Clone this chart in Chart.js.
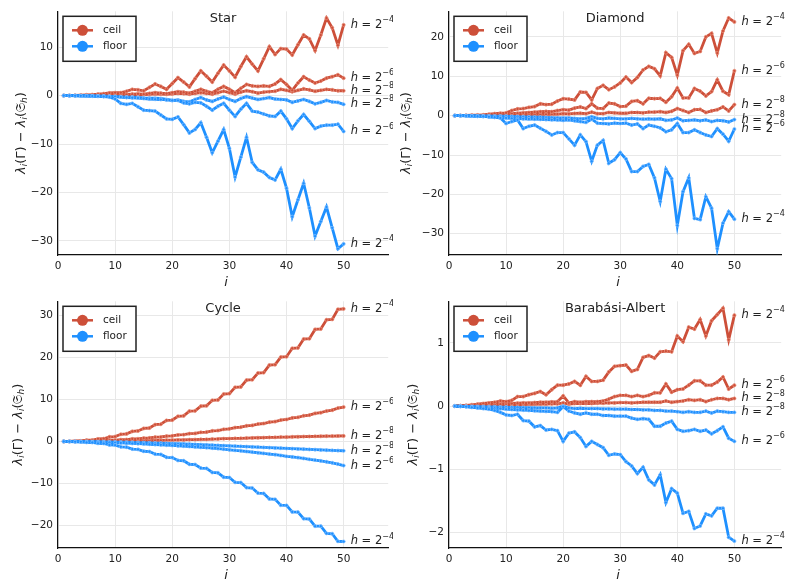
<!DOCTYPE html>
<html>
<head>
<meta charset="utf-8">
<script src="https://cdn.jsdelivr.net/npm/chart.js@4.4.0/dist/chart.umd.min.js"></script>
<style>
  html, body { margin: 0; padding: 0; background: #fff; }
  #figure { position: relative; width: 786px; height: 586px; overflow: hidden; }
  #figure canvas { position: absolute; }
</style>
</head>
<body>
<div id="figure">
  <canvas id="star" width="393" height="290" style="left:0;top:0"></canvas>
  <canvas id="diamond" width="393" height="290" style="left:393px;top:0"></canvas>
  <canvas id="cycle" width="393" height="296" style="left:0;top:290px"></canvas>
  <canvas id="ba" width="393" height="296" style="left:393px;top:290px"></canvas>
</div>
<script>
// eigenvalue index i
const eigIndex = [1, 2, 3, 4, 5, 6, 7, 8, 9, 10, 11, 12, 13, 14, 15, 16, 17, 18, 19, 20,
    21, 22, 23, 24, 25, 26, 27, 28, 29, 30, 31, 32, 33, 34, 35, 36, 37, 38, 39, 40,
    41, 42, 43, 44, 45, 46, 47, 48, 49, 50];

// Star
const starCeil4 = [0, 0.02, 0.05, 0.1, 0.15, 0.2, 0.3, 0.4, 0.55, 0.6, 0.6, 0.9, 1.3, 1.2, 1.0, 1.7, 2.4, 1.9, 1.3, 2.5,
    3.7, 2.8, 1.8, 3.5, 5.1, 4.0, 2.8, 4.6, 6.3, 5.1, 3.8, 6.0, 8.0, 6.5, 5.1, 7.6, 10.1, 8.5, 9.7, 9.6,
    8.4, 10.5, 12.5, 11.7, 9.3, 12.5, 16.0, 14.0, 10.4, 14.6];
const starCeil6 = [0, 0.01, 0.02, 0.04, 0.06, 0.08, 0.1, 0.12, 0.15, 0.18, 0.2, 0.25, 0.3, 0.35, 0.3, 0.45, 0.6, 0.5, 0.4, 0.6,
    0.8, 0.7, 0.5, 0.9, 1.3, 0.9, 0.6, 1.3, 1.9, 1.3, 0.6, 1.5, 2.3, 2.0, 1.9, 2.0, 1.9, 2.4, 3.3, 2.3,
    1.1, 2.6, 3.9, 3.2, 2.6, 3.0, 3.6, 3.9, 4.3, 3.6];
const starCeil8 = [0, 0.01, 0.02, 0.03, 0.04, 0.05, 0.06, 0.08, 0.1, 0.12, 0.14, 0.16, 0.2, 0.22, 0.2, 0.25, 0.35, 0.3, 0.25, 0.35,
    0.45, 0.4, 0.3, 0.45, 0.6, 0.45, 0.3, 0.6, 0.9, 0.6, 0.3, 0.7, 1.0, 0.8, 0.5, 0.7, 0.8, 0.9, 1.3, 1.1,
    0.8, 1.1, 1.4, 1.2, 0.9, 1.1, 1.3, 1.2, 1.0, 1.0];
const starFloor8 = [0, -0.01, -0.02, -0.04, -0.06, -0.08, -0.1, -0.12, -0.15, -0.2, -0.25, -0.3, -0.3, -0.35, -0.45, -0.5, -0.55, -0.6, -0.8, -1.0,
    -0.9, -1.2, -1.3, -0.8, -0.4, -0.9, -1.2, -0.7, -0.3, -0.8, -1.2, -0.6, -0.2, -0.5, -0.8, -0.6, -0.4, -0.7, -0.8, -0.9,
    -1.4, -1.1, -0.8, -1.2, -1.7, -1.4, -1.0, -1.3, -1.4, -1.8];
const starFloor6 = [0, -0.01, -0.02, -0.03, -0.05, -0.07, -0.09, -0.12, -0.15, -0.2, -0.3, -0.4, -0.45, -0.5, -0.6, -0.7, -0.75, -0.8, -0.9, -1.0,
    -1.0, -1.5, -1.7, -1.4, -1.5, -2.2, -3.0, -2.2, -1.6, -3.0, -4.3, -2.8, -1.6, -3.2, -3.4, -3.8, -4.2, -4.3, -3.2, -4.8,
    -6.8, -5.2, -3.9, -5.3, -6.8, -6.3, -6.1, -6.1, -5.9, -7.4];
const starFloor4 = [0, -0.01, -0.03, -0.05, -0.08, -0.1, -0.15, -0.2, -0.3, -0.7, -1.6, -1.8, -1.6, -2.3, -3.0, -3.1, -3.2, -4.0, -4.8, -4.9,
    -4.4, -6.0, -7.7, -7.0, -5.6, -8.6, -11.8, -9.4, -7.0, -10.9, -16.8, -12.7, -8.6, -13.8, -15.3, -15.8, -16.9, -17.4, -15.2, -19.1,
    -25.0, -21.5, -18.1, -23.2, -29.0, -26.0, -23.0, -27.3, -31.6, -30.6];

// Diamond
const diamondCeil4 = [0, 0.02, 0.05, 0.1, 0.15, 0.2, 0.35, 0.5, 0.6, 0.7, 1.3, 1.7, 1.8, 2.1, 2.3, 3.0, 2.8, 2.9, 3.7, 4.3,
    4.2, 4.0, 6.0, 5.9, 4.0, 6.9, 7.7, 6.6, 7.3, 8.3, 9.8, 8.4, 9.7, 11.6, 12.5, 11.9, 10.1, 16.0, 14.8, 10.3,
    16.5, 18.1, 15.8, 16.3, 20.0, 20.9, 15.9, 21.5, 24.8, 23.8];
const diamondCeil6 = [0, 0.01, 0.02, 0.04, 0.06, 0.1, 0.15, 0.2, 0.3, 0.4, 0.5, 0.6, 0.7, 0.8, 0.9, 1.0, 1.1, 1.0, 1.3, 1.5,
    1.4, 1.9, 2.2, 1.8, 3.0, 1.9, 1.8, 3.2, 3.0, 2.3, 2.4, 3.6, 3.8, 3.0, 4.4, 4.3, 4.4, 3.4, 4.8, 7.0,
    4.5, 4.5, 6.9, 6.2, 5.0, 6.1, 9.1, 6.2, 5.3, 11.4];
const diamondCeil8 = [0, 0.01, 0.02, 0.03, 0.04, 0.05, 0.07, 0.1, 0.12, 0.15, 0.18, 0.2, 0.22, 0.25, 0.3, 0.3, 0.35, 0.35, 0.4, 0.5,
    0.45, 0.55, 0.6, 0.5, 0.9, 0.5, 0.5, 0.8, 0.7, 0.6, 0.6, 0.8, 0.8, 0.7, 0.9, 0.9, 1.0, 0.8, 1.1, 1.8,
    1.3, 0.8, 1.5, 1.6, 0.8, 1.2, 1.5, 2.2, 1.2, 2.8];
const diamondFloor8 = [0, -0.01, -0.02, -0.04, -0.06, -0.08, -0.1, -0.12, -0.14, -0.16, -0.2, -0.25, -0.3, -0.35, -0.4, -0.4, -0.45, -0.5, -0.55, -0.6,
    -0.6, -0.7, -0.8, -0.7, -0.3, -0.7, -0.8, -0.6, -0.7, -0.8, -0.8, -0.7, -0.8, -0.9, -0.8, -0.9, -0.8, -1.2, -1.1, -0.6,
    -1.3, -1.2, -1.1, -1.3, -1.1, -1.5, -1.2, -1.3, -1.6, -1.0];
const diamondFloor6 = [0, -0.02, -0.05, -0.1, -0.15, -0.2, -0.3, -0.4, -0.5, -0.6, -0.7, -0.75, -0.8, -0.85, -0.9, -0.95, -1.0, -1.05, -1.1, -1.2,
    -1.1, -1.3, -1.5, -1.7, -0.9, -1.9, -2.0, -2.1, -1.9, -2.0, -1.9, -2.4, -2.1, -3.3, -2.4, -2.7, -3.1, -4.1, -3.6, -2.0,
    -4.3, -4.3, -3.6, -4.3, -4.9, -5.3, -3.3, -4.7, -6.5, -3.4];
const diamondFloor4 = [0, -0.02, -0.05, -0.1, -0.15, -0.2, -0.3, -0.4, -0.6, -2.0, -1.5, -1.1, -3.3, -2.7, -2.4, -3.2, -4.0, -4.9, -4.3, -4.3,
    -5.9, -7.5, -4.9, -6.6, -11.6, -7.5, -6.3, -12.1, -11.2, -9.4, -11.0, -14.2, -14.2, -12.9, -12.4, -15.8, -21.8, -13.6, -16.0, -27.9,
    -19.3, -15.8, -26.1, -26.4, -20.6, -23.5, -33.8, -27.3, -24.4, -26.3];

// Cycle
const cycleCeil4 = [0, 0.02, 0.1, 0.12, 0.3, 0.33, 0.6, 0.65, 1.1, 1.15, 1.7, 1.8, 2.4, 2.5, 3.1, 3.2, 4.0, 4.1, 5.0, 5.1,
    6.0, 6.1, 7.2, 7.3, 8.4, 8.5, 9.8, 9.9, 11.3, 11.4, 12.9, 13.0, 14.6, 14.7, 16.3, 16.4, 18.2, 18.3, 20.1, 20.2,
    22.2, 22.3, 24.4, 24.5, 26.7, 26.8, 29.0, 29.1, 31.5, 31.6];
const cycleCeil6 = [0, 0.01, 0.03, 0.04, 0.08, 0.09, 0.16, 0.17, 0.28, 0.3, 0.42, 0.45, 0.6, 0.63, 0.8, 0.84, 1.02, 1.06, 1.27, 1.32,
    1.55, 1.6, 1.85, 1.9, 2.18, 2.24, 2.52, 2.6, 2.9, 3.0, 3.3, 3.4, 3.72, 3.82, 4.15, 4.27, 4.6, 4.73, 5.1, 5.23,
    5.6, 5.75, 6.12, 6.28, 6.68, 6.85, 7.25, 7.45, 7.95, 8.2];
const cycleCeil8 = [0, 0, 0.01, 0.01, 0.02, 0.02, 0.04, 0.04, 0.07, 0.07, 0.1, 0.11, 0.14, 0.15, 0.19, 0.2, 0.24, 0.25, 0.3, 0.31,
    0.36, 0.37, 0.42, 0.44, 0.5, 0.51, 0.57, 0.59, 0.65, 0.67, 0.73, 0.75, 0.81, 0.83, 0.88, 0.9, 0.96, 0.98, 1.03, 1.05,
    1.1, 1.12, 1.16, 1.18, 1.22, 1.23, 1.26, 1.27, 1.3, 1.31];
const cycleFloor8 = [0, -0.01, -0.02, -0.03, -0.05, -0.06, -0.08, -0.1, -0.13, -0.15, -0.18, -0.2, -0.24, -0.27, -0.3, -0.34, -0.38, -0.42, -0.46, -0.5,
    -0.55, -0.6, -0.65, -0.7, -0.76, -0.82, -0.88, -0.94, -1.0, -1.06, -1.12, -1.18, -1.24, -1.3, -1.37, -1.43, -1.49, -1.55, -1.61, -1.67,
    -1.73, -1.79, -1.85, -1.9, -1.96, -2.02, -2.08, -2.13, -2.18, -2.22];
const cycleFloor6 = [0, -0.02, -0.04, -0.07, -0.1, -0.13, -0.17, -0.21, -0.26, -0.31, -0.36, -0.42, -0.48, -0.54, -0.6, -0.67, -0.74, -0.81, -0.88, -0.96,
    -1.04, -1.12, -1.21, -1.3, -1.4, -1.5, -1.6, -1.7, -1.85, -2.0, -2.12, -2.25, -2.4, -2.55, -2.7, -2.85, -3.0, -3.15, -3.35, -3.55,
    -3.7, -3.85, -4.05, -4.25, -4.45, -4.65, -4.85, -5.1, -5.4, -5.75];
const cycleFloor4 = [0, -0.02, -0.08, -0.09, -0.23, -0.25, -0.45, -0.49, -0.83, -0.87, -1.28, -1.36, -1.81, -1.89, -2.34, -2.42, -3.02, -3.1, -3.78, -3.85,
    -4.53, -4.6, -5.44, -5.5, -6.34, -6.42, -7.4, -7.47, -8.53, -8.6, -9.74, -9.8, -11.0, -11.1, -12.3, -12.4, -13.7, -13.8, -15.2, -15.25,
    -16.8, -16.85, -18.4, -18.5, -20.2, -20.2, -21.9, -22.0, -23.8, -23.85];

// Barabási-Albert
const baCeil4 = [0, 0.005, 0.01, 0.02, 0.03, 0.04, 0.05, 0.06, 0.08, 0.07, 0.09, 0.15, 0.15, 0.18, 0.2, 0.23, 0.18, 0.26, 0.33, 0.33,
    0.35, 0.39, 0.33, 0.47, 0.39, 0.39, 0.41, 0.54, 0.63, 0.64, 0.65, 0.55, 0.58, 0.77, 0.8, 0.76, 0.86, 0.87, 0.86, 1.11,
    1.02, 1.25, 1.22, 1.37, 1.11, 1.35, 1.45, 1.55, 1.05, 1.44];
const baCeil6 = [0, 0.003, 0.006, 0.01, 0.013, 0.016, 0.02, 0.025, 0.03, 0.035, 0.04, 0.045, 0.05, 0.05, 0.055, 0.06, 0.06, 0.065, 0.07, 0.16,
    0.05, 0.07, 0.06, 0.07, 0.07, 0.07, 0.08, 0.11, 0.15, 0.17, 0.17, 0.15, 0.17, 0.15, 0.17, 0.21, 0.21, 0.35, 0.22, 0.26,
    0.27, 0.33, 0.4, 0.4, 0.33, 0.33, 0.38, 0.46, 0.27, 0.33];
const baCeil8 = [0, 0.002, 0.004, 0.006, 0.008, 0.01, 0.012, 0.014, 0.016, 0.018, 0.02, 0.022, 0.024, 0.026, 0.028, 0.03, 0.03, 0.035, 0.035, 0.05,
    0.03, 0.04, 0.04, 0.04, 0.04, 0.045, 0.045, 0.05, 0.05, 0.055, 0.055, 0.05, 0.055, 0.06, 0.06, 0.06, 0.06, 0.08, 0.06, 0.07,
    0.08, 0.1, 0.09, 0.1, 0.07, 0.1, 0.12, 0.12, 0.1, 0.12];
const baFloor8 = [0, -0.002, -0.004, -0.006, -0.008, -0.01, -0.012, -0.014, -0.016, -0.018, -0.02, -0.022, -0.024, -0.026, -0.028, -0.03, -0.03, -0.035, -0.03, 0.0,
    -0.03, -0.04, -0.035, -0.04, -0.04, -0.04, -0.045, -0.045, -0.05, -0.05, -0.05, -0.055, -0.055, -0.06, -0.06, -0.07, -0.07, -0.08, -0.08, -0.09,
    -0.1, -0.09, -0.1, -0.1, -0.08, -0.11, -0.08, -0.09, -0.1, -0.1];
const baFloor6 = [0, -0.005, -0.01, -0.015, -0.02, -0.025, -0.03, -0.035, -0.04, -0.05, -0.055, -0.06, -0.065, -0.07, -0.075, -0.08, -0.085, -0.09, -0.1, -0.01,
    -0.08, -0.11, -0.13, -0.11, -0.13, -0.13, -0.15, -0.15, -0.16, -0.16, -0.16, -0.19, -0.21, -0.2, -0.21, -0.32, -0.32, -0.27, -0.24, -0.37,
    -0.4, -0.39, -0.37, -0.4, -0.38, -0.44, -0.39, -0.33, -0.51, -0.56];
const baFloor4 = [0, -0.005, -0.01, -0.02, -0.03, -0.04, -0.05, -0.07, -0.1, -0.14, -0.15, -0.13, -0.23, -0.24, -0.33, -0.31, -0.38, -0.37, -0.39, -0.56,
    -0.43, -0.41, -0.5, -0.64, -0.56, -0.61, -0.66, -0.78, -0.76, -0.77, -0.88, -0.95, -1.07, -0.97, -1.17, -1.25, -1.09, -1.53, -1.31, -1.38,
    -1.7, -1.67, -1.94, -1.9, -1.71, -1.74, -1.62, -1.62, -2.08, -2.14];

const CEIL_COLOR = '#cd4f39';
const FLOOR_COLOR = '#1e90ff';
const FONT = '"DejaVu Sans", sans-serif';
const TEXT_COLOR = '#222';

const panels = [
    { id: 'star', title: 'Star',
      ceil: [starCeil4, starCeil6, starCeil8], floor: [starFloor4, starFloor6, starFloor8],
      yMin: -32.9, yMax: 17.4, yStep: 10, xMax: 57.8,
      yAxisW: 58, xAxisH: 35, padTop: 0, yTitleOff: 36 },
    { id: 'diamond', title: 'Diamond',
      ceil: [diamondCeil4, diamondCeil6, diamondCeil8], floor: [diamondFloor4, diamondFloor6, diamondFloor8],
      yMin: -35.4, yMax: 26.5, yStep: 10, xMax: 58.2,
      yAxisW: 56, xAxisH: 35, padTop: 0, yTitleOff: 42 },
    { id: 'cycle', title: 'Cycle',
      ceil: [cycleCeil4, cycleCeil6, cycleCeil8], floor: [cycleFloor4, cycleFloor6, cycleFloor8],
      yMin: -25.4, yMax: 33.4, yStep: 10, xMax: 57.8,
      yAxisW: 58, xAxisH: 38, padTop: 3, yTitleOff: 39 },
    { id: 'ba', title: 'Barabási-Albert',
      ceil: [baCeil4, baCeil6, baCeil8], floor: [baFloor4, baFloor6, baFloor8],
      yMin: -2.25, yMax: 1.66, yStep: 1, xMax: 58.2,
      yAxisW: 56, xAxisH: 38, padTop: 3, yTitleOff: 35 }
];

const exponents = ['−4', '−6', '−8'];

// draw text made of pieces with different fonts / offsets
function drawRich(ctx, parts, x, y, centered) {
    let total = 0;
    parts.forEach(p => { ctx.font = p.font; p.w = ctx.measureText(p.t).width; total += p.w; });
    let cx = centered ? x - total / 2 : x;
    parts.forEach(p => { ctx.font = p.font; ctx.fillText(p.t, cx, y + (p.dy || 0)); cx += p.w; });
}

const decorations = {
    id: 'decorations',
    afterDraw(chart, args, opts) {
        const ctx = chart.ctx;
        const ca = chart.chartArea;
        const xs = chart.scales.x, ys = chart.scales.y;
        ctx.save();
        ctx.fillStyle = TEXT_COLOR;
        ctx.textBaseline = 'middle';

        // curve labels h = 2^-k
        chart.data.datasets.forEach(ds => {
            const last = ds.data[ds.data.length - 1];
            const px = xs.getPixelForValue(last.x) + 7;
            const py = ys.getPixelForValue(last.y);
            drawRich(ctx, [
                { t: 'h', font: 'italic 11.5px ' + FONT },
                { t: ' = 2', font: '11.5px ' + FONT },
                { t: ds.expText, font: '8px ' + FONT, dy: -5 }
            ], px, py, false);
        });

        // title
        ctx.textAlign = 'center';
        ctx.font = '13px ' + FONT;
        ctx.fillText(opts.title, (ca.left + ca.right) / 2, ca.top + 7);

        // x axis title
        ctx.font = 'italic 13px ' + FONT;
        ctx.fillText('i', (ca.left + ca.right) / 2 + 3, ca.bottom + 28);
        ctx.textAlign = 'left';

        // y axis title
        ctx.save();
        ctx.translate(ca.left - opts.yTitleOff, (ca.top + ca.bottom) / 2);
        ctx.rotate(-Math.PI / 2);
        const big = '13px ' + FONT, bigIt = 'italic 13px ' + FONT, sub = 'italic 9px ' + FONT;
        drawRich(ctx, [
            { t: 'λ', font: bigIt }, { t: 'i', font: sub, dy: 3 },
            { t: '(Γ) − ', font: big },
            { t: 'λ', font: bigIt }, { t: 'i', font: sub, dy: 3 },
            { t: '(', font: big }, { t: '𝔖', font: big }, { t: 'h', font: sub, dy: 3 },
            { t: ')', font: big }
        ], 0, 0, true);
        ctx.restore();

        // legend
        const lx = ca.left + 5, ly = ca.top + 5;
        ctx.fillStyle = '#fff';
        ctx.fillRect(lx, ly, 73, 45);
        ctx.strokeStyle = '#222';
        ctx.lineWidth = 1.5;
        ctx.strokeRect(lx, ly, 73, 45);
        [['ceil', CEIL_COLOR, 14], ['floor', FLOOR_COLOR, 30]].forEach(([name, color, dy]) => {
            ctx.strokeStyle = color;
            ctx.lineWidth = 2.5;
            ctx.beginPath();
            ctx.moveTo(lx + 9, ly + dy);
            ctx.lineTo(lx + 30, ly + dy);
            ctx.stroke();
            ctx.fillStyle = color;
            ctx.beginPath();
            ctx.arc(lx + 19.5, ly + dy, 5.5, 0, Math.PI * 2);
            ctx.fill();
            ctx.fillStyle = TEXT_COLOR;
            ctx.font = '10.5px ' + FONT;
            ctx.fillText(name, lx + 40, ly + dy);
        });
        ctx.restore();
    }
};

function buildDataset(values, color, expText) {
    return {
        data: eigIndex.map((x, k) => ({ x: x, y: values[k] })),
        expText: expText,
        borderColor: color,
        backgroundColor: color,
        borderWidth: 2.8,
        pointRadius: 1.6,
        pointBorderWidth: 0.8,
        pointBorderColor: color === CEIL_COLOR ? 'rgba(235,150,130,0.9)' : 'rgba(140,195,255,0.9)',
        pointBackgroundColor: color,
        tension: 0
    };
}

function setupPanel(p) {
    const datasets = [];
    // floor curves first so they are drawn on top
    p.floor.forEach((vals, k) => datasets.push(buildDataset(vals, FLOOR_COLOR, exponents[k])));
    p.ceil.forEach((vals, k) => datasets.push(buildDataset(vals, CEIL_COLOR, exponents[k])));

    const tickFont = { family: FONT, size: 10.5 };
    new Chart(document.getElementById(p.id), {
        type: 'line',
        data: { datasets: datasets },
        options: {
            responsive: false,
            animation: false,
            layout: { padding: { top: p.padTop, right: 2, left: 0, bottom: 0 } },
            plugins: {
                legend: { display: false },
                tooltip: { enabled: false },
                decorations: { title: p.title, yTitleOff: p.yTitleOff }
            },
            scales: {
                x: {
                    type: 'linear',
                    min: 0,
                    max: p.xMax,
                    ticks: { stepSize: 10, includeBounds: false, font: tickFont, color: TEXT_COLOR, padding: 5, maxRotation: 0 },
                    grid: { color: '#e8e8e8', drawTicks: false },
                    border: { color: '#111', width: 1.2 },
                    afterFit(scale) { scale.height = p.xAxisH; }
                },
                y: {
                    min: p.yMin,
                    max: p.yMax,
                    ticks: {
                        stepSize: p.yStep, includeBounds: false, font: tickFont, color: TEXT_COLOR, padding: 5,
                        callback: v => String(v).replace('-', '−')
                    },
                    grid: { color: '#e8e8e8', drawTicks: false },
                    border: { color: '#111', width: 1.2 },
                    afterFit(scale) { scale.width = p.yAxisW; }
                }
            }
        },
        plugins: [decorations]
    });
}

panels.forEach(setupPanel);
</script>
</body>
</html>
